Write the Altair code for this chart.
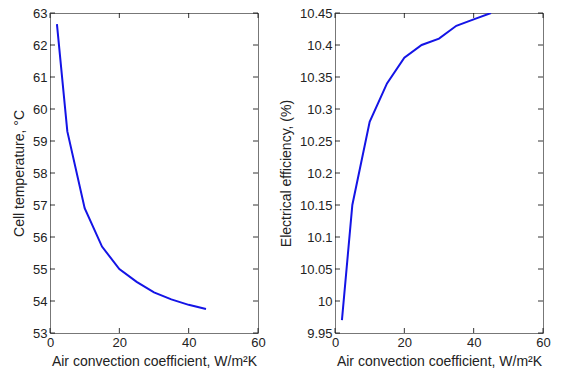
import altair as alt
import pandas as pd

h_coef = [2, 5, 10, 15, 20, 25, 30, 35, 40, 45]
cell_temp = [62.65, 59.3, 56.9, 55.7, 55.0, 54.6, 54.27, 54.05, 53.88, 53.75]
elec_eff = [9.97, 10.15, 10.28, 10.34, 10.38, 10.40, 10.41, 10.43, 10.44, 10.45]

x_ticks = [0, 20, 40, 60]
temp_ticks = [53, 54, 55, 56, 57, 58, 59, 60, 61, 62, 63]
eff_ticks = [9.95, 10.0, 10.05, 10.1, 10.15, 10.2, 10.25, 10.3, 10.35, 10.4, 10.45]

FONT = "Liberation Sans"
XTITLE = "Air convection coefficient, W/m\u00b2K"

def panel(yvals, yticks, ydom, ytitle, fmt):
    df = pd.DataFrame({"h": h_coef, "v": yvals})
    xs = alt.Scale(domain=[0, 60], nice=False)
    ys = alt.Scale(domain=ydom, nice=False, zero=False)
    xa = alt.Axis(values=x_ticks, title=XTITLE, ticks=False,
                  labelPadding=3, titlePadding=5, domain=False,
                  labelOverlap=False, labelFlush=False, grid=False,
                  titleFontWeight="normal")
    ya = alt.Axis(values=yticks, title=ytitle, ticks=False, format=fmt,
                  labelPadding=3, titlePadding=6, domain=False,
                  labelOverlap=False, labelFlush=False, grid=False,
                  titleFontWeight="normal")
    line = alt.Chart(df).mark_line(color="#1414e6", strokeWidth=2, clip=True).encode(
        x=alt.X("h:Q", scale=xs, axis=xa, title=XTITLE),
        y=alt.Y("v:Q", scale=ys, axis=ya, title=ytitle),
    )
    xt = pd.DataFrame({"t": x_ticks})
    yt = pd.DataFrame({"t": yticks})
    xb = alt.Chart(xt).mark_rule(color="black", strokeWidth=0.8).encode(
        x=alt.X("t:Q", scale=xs, axis=xa, title=XTITLE), y=alt.value(320), y2=alt.value(315))
    xtp = alt.Chart(xt).mark_rule(color="black", strokeWidth=0.8).encode(
        x=alt.X("t:Q", scale=xs, axis=xa, title=XTITLE), y=alt.value(0), y2=alt.value(5))
    yl = alt.Chart(yt).mark_rule(color="black", strokeWidth=0.8).encode(
        y=alt.Y("t:Q", scale=ys, axis=ya, title=ytitle), x=alt.value(0), x2=alt.value(5))
    yr = alt.Chart(yt).mark_rule(color="black", strokeWidth=0.8).encode(
        y=alt.Y("t:Q", scale=ys, axis=ya, title=ytitle), x=alt.value(208), x2=alt.value(203))
    return alt.layer(line, xb, xtp, yl, yr).properties(width=208, height=320)

left = panel(cell_temp, temp_ticks, [53, 63], "Cell temperature, \u00b0C", "d")
right = panel(elec_eff, eff_ticks, [9.95, 10.45], "Electrical efficiency, (%)", "")

chart = alt.hconcat(left, right, spacing=12).properties(
    padding={"left": 12, "top": 6, "right": 0, "bottom": 0},
    background="white",
).configure_view(stroke="#777777", strokeWidth=1).configure_axis(
    labelFont=FONT, titleFont=FONT, labelFontSize=13, titleFontSize=14,
    labelColor="#222222", titleColor="#222222", titleFontWeight="normal", grid=False
)

chart.save("out.html", embed_options={"renderer": "svg", "actions": False})
